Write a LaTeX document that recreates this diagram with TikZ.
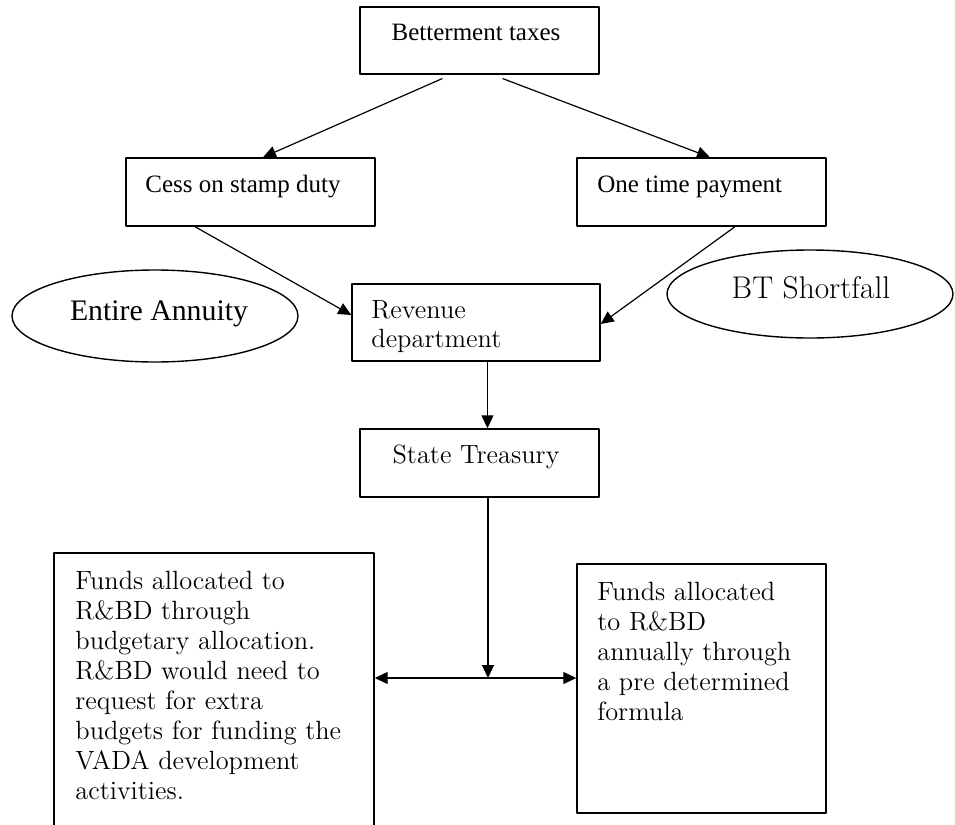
\documentclass[tikz,border=0pt]{standalone}
\usepackage{fontspec}
\newfontfamily\timesfont{Liberation Serif}
\usetikzlibrary{arrows.meta,shapes.geometric,calc}

\begin{document}
\begin{tikzpicture}[x=0.5pt, y=-0.5pt, line cap=round, line join=round,
  box/.style={draw, line width=0.7pt, inner sep=0pt},
  oval/.style={draw, ellipse, line width=0.7pt, inner sep=0pt},
  small/.style={inner sep=0pt, font=\timesfont\fontsize{12.5}{15}\selectfont},
  big/.style={inner sep=0pt, font=\fontsize{15.7}{18}\selectfont},
  body/.style={inner sep=0pt, align=left, font=\fontsize{13.2}{15}\selectfont},
  flow/.style={-{Triangle[length=6.5pt,width=6pt]}, line width=0.6pt},
  both/.style={{Triangle[length=6.5pt,width=6pt]}-{Triangle[length=6.5pt,width=6pt]}, line width=0.6pt}]

% page area
\useasboundingbox (0,0) rectangle (955,825);
\clip (0,0) rectangle (955,825);

% Boxes
\node[box, minimum width=119.5pt, minimum height=33.5pt] (tax) at (479.5,40.5) {};
\node[box, minimum width=124.5pt, minimum height=34pt] (cess) at (250.5,192) {};
\node[box, minimum width=124.5pt, minimum height=34pt] (once) at (701.5,192) {};
\node[box, minimum width=124pt, minimum height=38.5pt] (rev) at (476,322.5) {};
\node[box, minimum width=119.5pt, minimum height=34pt] (treas) at (479.5,463) {};
\node[box, minimum width=160pt, minimum height=150pt] (budget) at (214,703) {};
\node[box, minimum width=124.5pt, minimum height=124.5pt] (formula) at (701.5,688.5) {};

% Ovals beside the revenue box
\node[oval, minimum width=143pt, minimum height=46pt] (annuity) at (155,316) {};
\node[oval, minimum width=143pt, minimum height=44pt] (shortfall) at (810,294) {};

% Texts
\node[small, anchor=base] (tax-t) at (476,40) {Betterment taxes};
\node[small, anchor=base west] (cess-t) at (145,192) {Cess on stamp duty};
\node[small, anchor=base west] (once-t) at (597,192) {One time payment};
\node[small, anchor=base, font=\timesfont\fontsize{14.9}{18}\selectfont] (annuity-t) at (159,320) {Entire Annuity};
\node[big, anchor=base] (shortfall-t) at (811,298) {BT Shortfall};
\node[body, anchor=north west, font=\fontsize{13.2}{14.5}\selectfont] (rev-t) at (371,300) {Revenue\\department};
\node[body, anchor=base] (treas-t) at (476,463) {State Treasury};
\node[body, anchor=north west] (budget-t) at (75,571) {Funds allocated to\\R\&BD through\\budgetary allocation.\\R\&BD would need to\\request for extra\\budgets for funding the\\VADA development\\activities.};
\node[body, anchor=north west] (formula-t) at (597,582) {Funds allocated\\to R\&BD\\annually through\\a pre determined\\formula};

% Connectors
\draw[flow] ($(tax.south)+(-37.5,4)$) -- ($(cess.north)+(12.5,0)$);
\draw[flow] ($(tax.south)+(23.5,4)$) -- ($(once.north)+(8.5,0)$);
\draw[flow] ($(cess.south)+(-55.5,0)$) -- ($(rev.west)+(0,-7.5)$);
\draw[flow] ($(once.south)+(33.5,0)$) -- ($(rev.east)+(0,1.5)$);
\coordinate (rev-out) at ($(rev.south)+(11.5,0)$);
\draw[flow] (rev-out) -- (rev-out |- treas.north);
\coordinate (split) at (488,678);
\draw[flow] (treas.south -| split) -- (split);
\draw[both] (budget.east |- split) -- (formula.west |- split);

\end{tikzpicture}
\end{document}
